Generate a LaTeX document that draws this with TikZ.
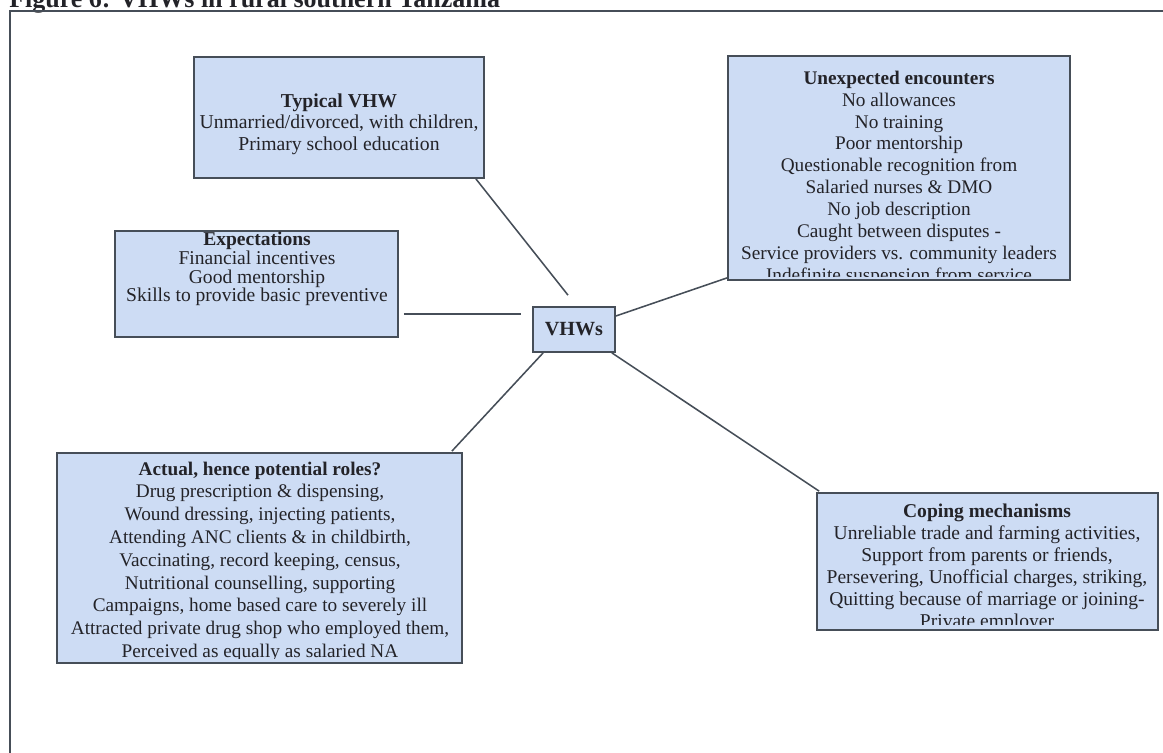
\documentclass[tikz,border=0pt]{standalone}
\usepackage{fontspec}
\setmainfont{Liberation Serif}
\usetikzlibrary{calc}

\definecolor{boxfill}{RGB}{205,220,244}
\definecolor{boxline}{RGB}{70,78,88}
\definecolor{ink}{RGB}{35,35,40}

\begin{document}
\begin{tikzpicture}[
    x=0.025cm, y=-0.025cm,
    box/.style={draw=boxline, fill=boxfill, line width=1.2pt, inner sep=0pt, align=center, text=ink},
    txt/.style={align=center, inner sep=0pt, text=ink, anchor=north},
    link/.style={draw=boxline, line width=1.1pt}
]
\useasboundingbox (0,0) rectangle (1163,752);
\clip (0,0) rectangle (1163,752);

\node[anchor=base west, inner sep=0pt, text=ink, font=\fontsize{18.5}{22}\selectfont\bfseries] (title) at (9,7) {Figure 6: VHWs in rural southern Tanzania};
\draw[boxline, line width=1.1pt] (10,11) rectangle (1200,1000);

\node[box, minimum width=7.25cm, minimum height=3.025cm] (typical) at (339,117.5) {};
\node[txt, font=\fontsize{14}{15.3}\selectfont] (typical-text) at (339,93.5) {\textbf{Typical VHW}\\Unmarried/divorced, with children,\\Primary school education};

\node[box, minimum width=7.075cm, minimum height=2.65cm] (expect) at (256.5,284) {};
\begin{scope}
\clip ($(expect.south west)+(1,-4)$) rectangle ($(expect.north east)+(-1,1)$);
\node[txt, font=\fontsize{13.9}{13.3}\selectfont] (expect-text) at (257,232) {\textbf{Expectations}\\Financial incentives\\Good mentorship\\Skills to provide basic preventive};
\end{scope}

\node[box, minimum width=8.55cm, minimum height=5.6cm] (unexpected) at (899,168) {};
\begin{scope}
\clip ($(unexpected.south west)+(1,-4)$) rectangle ($(unexpected.north east)+(-1,1)$);
\node[txt, font=\fontsize{13.7}{15.6}\selectfont] (unexpected-text) at (899,70.5) {\textbf{Unexpected encounters}\\No allowances\\No training\\Poor mentorship\\Questionable recognition from\\Salaried nurses \& DMO\\No job description\\Caught between disputes -\\Service providers vs. community leaders\\Indefinite suspension from service};
\end{scope}

\node[box, minimum width=2.05cm, minimum height=1.125cm, font=\fontsize{14.3}{16}\selectfont\bfseries] (vhws) at (574,329.5) {VHWs};

\node[box, minimum width=10.125cm, minimum height=5.25cm] (actual) at (259.5,558) {};
\begin{scope}
\clip ($(actual.south west)+(1,-5)$) rectangle ($(actual.north east)+(-1,1)$);
\node[txt, font=\fontsize{13.7}{16.2}\selectfont] (actual-text) at (260,461.5) {\textbf{Actual, hence potential roles?}\\Drug prescription \& dispensing,\\Wound dressing, injecting patients,\\Attending ANC clients \& in childbirth,\\Vaccinating, record keeping, census,\\Nutritional counselling, supporting\\Campaigns, home based care to severely ill\\Attracted private drug shop who employed them,\\Perceived as equally as salaried NA};
\end{scope}

\node[box, minimum width=8.525cm, minimum height=3.425cm] (coping) at (987.5,561.5) {};
\begin{scope}
\clip ($(coping.south west)+(1,-6)$) rectangle ($(coping.north east)+(-1,1)$);
\node[txt, font=\fontsize{13.9}{15.6}\selectfont] (coping-text) at (987,503.5) {\textbf{Coping mechanisms}\\Unreliable trade and farming activities,\\Support from parents or friends,\\Persevering, Unofficial charges, striking,\\Quitting because of marriage or joining-\\Private employer};
\end{scope}

\draw[link] ($(typical.south east)+(-9,0)$) -- ($(vhws.north)+(-6,-11)$);
\draw[link] ($(expect.east)+(5,30)$) -- ($(vhws.west)+(-11,-15.5)$);
\draw[link] ($(vhws.east)+(0,-13.5)$) -- ($(unexpected.south west)+(0,-3)$);
\draw[link] ($(actual.north east)+(-11,-1)$) -- ($(vhws.south west)+(11,0)$);
\draw[link] ($(vhws.south east)+(-4,0)$) -- ($(coping.north west)+(3,-1)$);

\end{tikzpicture}
\end{document}
